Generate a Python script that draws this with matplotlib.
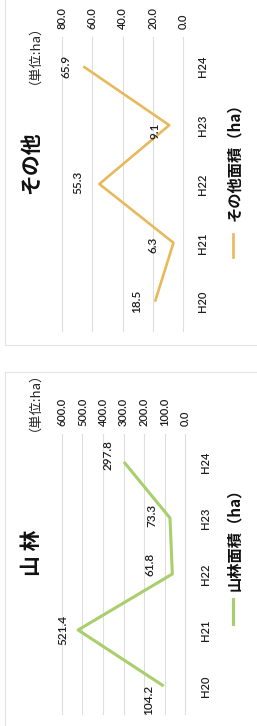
import matplotlib
matplotlib.use("Agg")
import matplotlib.pyplot as plt
from matplotlib.lines import Line2D

plt.rcParams['font.family'] = ['Lato', 'Noto Sans CJK JP', 'DejaVu Sans']

years = ["H20", "H21", "H22", "H23", "H24"]
other_values = [18.5, 6.3, 55.3, 9.1, 65.9]
other_ticks = [0, 20, 40, 60, 80]
forest_values = [104.2, 521.4, 61.8, 73.3, 297.8]
forest_ticks = [0, 100, 200, 300, 400, 500, 600]

W, H = 257, 726
fig = plt.figure(figsize=(W / 100, H / 100), dpi=100)
fig.patch.set_facecolor('white')

def px_axes(x0, x1, y0, y1):
    return fig.add_axes([x0 / W, 1 - y1 / H, (x1 - x0) / W, (y1 - y0) / H])

def setup(ax, ticks, values, color, lw, offsets, cat_pad):
    ax.set_xlim(ticks[-1], ticks[0])
    ax.set_ylim(-0.5, len(years) - 0.5)
    ax.set_xticks(ticks)
    ax.set_xticklabels([f"{t:.1f}" for t in ticks], rotation=90, fontsize=8,
                       color='#1e1e1e', fontweight='semibold')
    ax.xaxis.tick_top()
    ax.set_yticks(range(len(years)))
    ax.set_yticklabels(years, rotation=90, va='center', fontsize=8,
                       color='#1e1e1e', fontweight='semibold')
    ax.yaxis.tick_right()
    ax.tick_params(axis='x', length=0, pad=6)
    ax.tick_params(axis='y', length=0, pad=cat_pad)
    for s in ax.spines.values():
        s.set_visible(False)
    ax.grid(axis='x', color='#dedede', lw=0.8)
    ax.grid(axis='y', visible=False)
    for gl in ax.get_xgridlines():
        gl.set_clip_on(False)
    ax.set_facecolor('none')
    ax.plot(values, range(len(values)), color=color, lw=lw, solid_capstyle='butt', clip_on=False)
    for i, v in enumerate(values):
        dx, dy = offsets[i]
        ax.annotate(f"{v:.1f}", (v, i), xytext=(dx, dy), textcoords='offset pixels',
                    rotation=90, ha='center', va='center', fontsize=8.5,
                    color='#1e1e1e', fontweight='semibold')

orange = '#E8B95C'
green = '#A9CE6C'

ax1 = px_axes(62, 183, 37, 331)
setup(ax1, other_ticks, other_values, orange, 1.9,
      [(-18, 0), (-20, -2), (-21, 2), (-14, -6), (-17, 0)], 10)

ax2 = px_axes(62, 185, 434, 714)
setup(ax2, forest_ticks, forest_values, green, 2.2,
      [(-15, -14), (-15, 0), (-22, 10), (-18, 3), (-16, 7)], 11)

cjk = ['Noto Sans CJK JP', 'DejaVu Sans']

def ftext(x, y, s, **kw):
    fig.text(x / W, 1 - y / H, s, rotation=90, ha='center', va='center', family=cjk, **kw)

ftext(31, 163, "その他", fontsize=15, fontweight='bold', color='#111111')
ftext(28, 48, "（単位:ha）", fontsize=9.5, color='#222222')
ftext(32, 553, "山 林", fontsize=15, fontweight='bold', color='#111111')
ftext(28, 395, "（単位:ha）", fontsize=9.5, color='#222222')

ftext(234, 158, "その他面積（ha）", fontsize=11, fontweight='bold', color='#111111')
fig.add_artist(Line2D([233 / W, 233 / W], [1 - 257 / H, 1 - 234 / H], color=orange, lw=1.9))
ftext(234, 536, "山林面積（ha）", fontsize=11, fontweight='bold', color='#111111')
fig.add_artist(Line2D([233 / W, 233 / W], [1 - 624 / H, 1 - 599 / H], color=green, lw=2.2))

# faint chart-area borders
border = '#e4e4e4'
fig.add_artist(Line2D([5 / W, 5 / W], [1 - 345 / H, 1.0], color=border, lw=0.8))
fig.add_artist(Line2D([5 / W, 5 / W], [0.0, 1 - 372 / H], color=border, lw=0.8))
fig.add_artist(Line2D([5 / W, 1.0], [1 - 345 / H, 1 - 345 / H], color=border, lw=0.8))
fig.add_artist(Line2D([5 / W, 1.0], [1 - 372 / H, 1 - 372 / H], color=border, lw=0.8))

fig.savefig("out.png", dpi=100, facecolor='white')
